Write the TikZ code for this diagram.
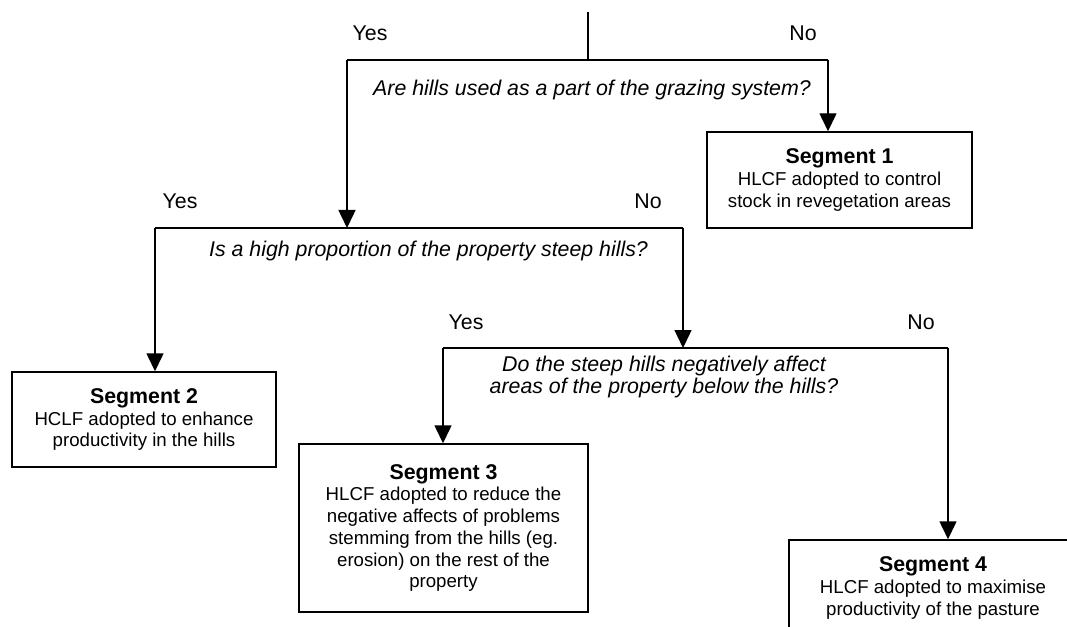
\documentclass[tikz,border=0pt]{standalone}
\usepackage{fontspec}
\setmainfont{Liberation Sans}
\usetikzlibrary{arrows.meta}
\newcommand{\seghead}[1]{{\fontsize{16}{16.3}\selectfont\bfseries #1}}
\tikzset{
	seg/.style={draw,align=center,inner sep=0pt},
	ask/.style={font=\fontsize{16}{16.5}\selectfont\itshape,align=center},
	ans/.style={font=\fontsize{16}{16.5}\selectfont},
	arr/.style={-{Triangle[width=12.75pt,length=13.5pt]}},
}
\begin{document}
\begin{tikzpicture}[x=0.75pt,y=-0.75pt,line width=1.1pt,font=\fontsize{14}{16.3}\selectfont]
	\useasboundingbox (0,0) rectangle (1067,627);
	\clip (0,0) rectangle (1067,627);
	% segments
	\node[seg,minimum width=198.75pt,minimum height=72pt] (s1) at (839.5,180) {\seghead{Segment 1}\\HLCF adopted to control\\stock in revegetation areas};
	\node[seg,minimum width=198pt,minimum height=71.25pt] (s2) at (144,419.5) {\seghead{Segment 2}\\HCLF adopted to enhance\\productivity in the hills};
	\node[seg,minimum width=216.75pt,minimum height=126pt] (s3) at (443.5,528) {\seghead{Segment 3}\\HLCF adopted to reduce the\\negative affects of problems\\stemming from the hills (eg.\\erosion) on the rest of the\\property};
	\node[seg,minimum width=216pt,minimum height=72pt] (s4) at (933,588) {\seghead{Segment 4}\\HLCF adopted to maximise\\productivity of the pasture};
	% questions
	\node[ask] (q1) at (592,90) {Are hills used as a part of the grazing system?};
	\node[ask] (q2) at (428.5,251) {Is a high proportion of the property steep hills?};
	\node[ask] (q3) at (664,377) {Do the steep hills negatively affect\\areas of the property below the hills?};
	\node[ans] (y1) at (370,33) {Yes}; \node[ans] (n1) at (803,33) {No};
	\node[ans] (y2) at (180,201) {Yes}; \node[ans] (n2) at (648,201) {No};
	\node[ans] (y3) at (466,322) {Yes}; \node[ans] (n3) at (921,322) {No};
	% branches
	\coordinate (in) at (588,12);
	\coordinate (b1) at (588,60); \coordinate (b1l) at (347,60); \coordinate (b1r) at (828,60);
	\coordinate (b2) at (347,228); \coordinate (b2l) at (155,228); \coordinate (b2r) at (683,228);
	\coordinate (b3) at (683,348); \coordinate (b3l) at (443,348); \coordinate (b3r) at (948,348);
	\draw (in) -- (b1);
	\draw (b1l) -- (b1r);
	\draw[arr] (b1r) -- (b1r |- s1.north);
	\draw[arr] (b1l) -- (b2);
	\draw (b2l) -- (b2r);
	\draw[arr] (b2l) -- (b2l |- s2.north);
	\draw[arr] (b2r) -- (b3);
	\draw (b3l) -- (b3r);
	\draw[arr] (b3l) -- (b3l |- s3.north);
	\draw[arr] (b3r) -- (b3r |- s4.north);
\end{tikzpicture}
\end{document}
